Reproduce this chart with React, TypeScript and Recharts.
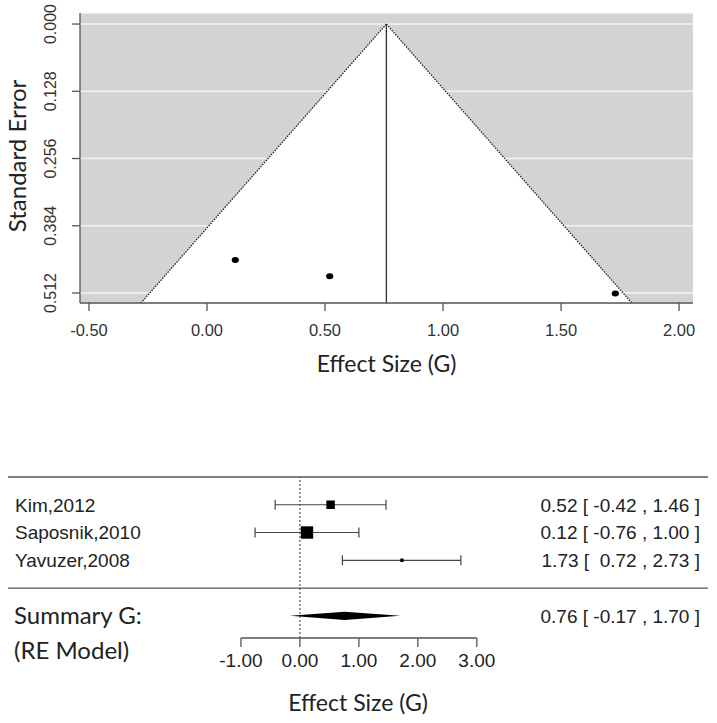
import React from 'react';
import {
	ComposedChart,
	Scatter,
	XAxis,
	YAxis,
	CartesianGrid,
	ReferenceArea,
	ReferenceLine,
	ErrorBar,
	Label
} from 'recharts';

// studies, top to bottom
const studies = ['Kim,2012', 'Saposnik,2010', 'Yavuzer,2008'];
const effects = [0.52, 0.12, 1.73];
const ciLower = [-0.42, -0.76, 0.72];
const ciUpper = [1.46, 1.0, 2.73];
const standardErrors = [0.48, 0.449, 0.513];
const weights = [35, 51, 14];

// random effects summary
const summaryEffect = 0.76;
const summaryLower = -0.17;
const summaryUpper = 1.7;

// funnel outline
const funnelLeft = -0.28;
const funnelRight = 1.8;
const funnelBaseSe = 0.531;

const funnelXTicks = [-0.5, 0, 0.5, 1, 1.5, 2];
const funnelYTicks = [0, 0.128, 0.256, 0.384, 0.512];
const forestXTicks = [-1, 0, 1, 2, 3];

const tickFont = '"Liberation Sans", Arial, sans-serif';
const titleFont = 'Lato, "Open Sans", sans-serif';
const axisColor = '#555555';

const funnelData = effects.map((e, i) => ({ x: e, se: standardErrors[i] }));

const forestData = effects.map((e, i) => ({
	x: e,
	row: studies.length - i,
	err: [e - ciLower[i], ciUpper[i] - e],
	weight: weights[i]
}));

const fmtCi = (e: number, lo: number, hi: number) => {
	const f = (v: number) => (v < 0 ? ' ' + v.toFixed(2) : '  ' + v.toFixed(2));
	return `${e.toFixed(2)} [${f(lo)} , ${hi.toFixed(2)} ]`;
};

const FunnelYTick = (props: any) => {
	const { x, y, payload } = props;
	const cx = x - 20;
	return (
		<text
			x={cx}
			y={y}
			dy="0.36em"
			textAnchor="middle"
			transform={`rotate(-90 ${cx} ${y})`}
			fill="#333"
			style={{ fontFamily: tickFont, fontSize: 16 }}
		>
			{Number(payload.value).toFixed(3)}
		</text>
	);
};

const SeLabel = (props: any) => {
	const vb = props.viewBox;
	const cy = vb.y + vb.height / 2 - 2;
	return (
		<text
			x={17}
			y={cy}
			dy="0.36em"
			textAnchor="middle"
			transform={`rotate(-90 17 ${cy})`}
			fill="#222"
			style={{ fontFamily: titleFont, fontSize: 24 }}
		>
			Standard Error
		</text>
	);
};

const FunnelTriangle = (props: any) => {
	const { x, y, width, height } = props;
	const apex = x + (width * (summaryEffect - funnelLeft)) / (funnelRight - funnelLeft);
	return (
		<polygon
			points={`${apex},${y} ${x + width},${y + height} ${x},${y + height}`}
			fill="#ffffff"
		/>
	);
};

const Dot = (props: any) => {
	const { cx, cy } = props;
	return <ellipse cx={cx} cy={cy} rx={3.6} ry={3} fill="#000" />;
};

const WeightSquare = (props: any) => {
	const { cx, cy, payload } = props;
	const s = payload.weight * 0.243;
	return <rect x={cx - s / 2} y={cy - s / 2} width={s} height={s} fill="#000" />;
};

const Diamond = (props: any) => {
	const { x, y, width, height } = props;
	const mid = x + (width * (summaryEffect - summaryLower)) / (summaryUpper - summaryLower);
	return (
		<polygon
			points={`${x},${y + height / 2} ${mid},${y} ${x + width},${y + height / 2} ${mid},${y + height}`}
			fill="#000"
		/>
	);
};

const ciTextStyle = { fontFamily: tickFont, fontSize: 19, whiteSpace: 'pre' as const };

const RowTick = (props: any) => {
	const { y, payload } = props;
	const v = payload.value;
	if (v < 0) {
		return (
			<g>
				<text x={14} y={y} dy="0.36em" fill="#222" style={{ fontFamily: titleFont, fontSize: 24 }}>
					Summary G:
				</text>
				<text x={14} y={y + 35} dy="0.36em" fill="#222" style={{ fontFamily: titleFont, fontSize: 24 }}>
					(RE Model)
				</text>
				<text x={700} y={y} dy="0.36em" textAnchor="end" fill="#222" xmlSpace="preserve" style={ciTextStyle}>
					{fmtCi(summaryEffect, summaryLower, summaryUpper)}
				</text>
			</g>
		);
	}
	const i = studies.length - v;
	return (
		<g>
			<text x={15} y={y} dy="0.36em" fill="#222" style={{ fontFamily: tickFont, fontSize: 19 }}>
				{studies[i]}
			</text>
			<text x={700} y={y} dy="0.36em" textAnchor="end" fill="#222" xmlSpace="preserve" style={ciTextStyle}>
				{fmtCi(effects[i], ciLower[i], ciUpper[i])}
			</text>
		</g>
	);
};

const App = () => {
	return (
		<div style={{ position: 'absolute', left: 0, top: 0, width: 717, height: 723, background: '#fff' }}>
			<ComposedChart
				width={717}
				height={390}
				data={funnelData}
				margin={{ top: 13, right: 24, left: 8, bottom: 13 }}
			>
				<CartesianGrid vertical={false} stroke="#f4f4f4" strokeWidth={1.5} fill="#d3d3d3" fillOpacity={1} />
				<XAxis
					type="number"
					dataKey="x"
					domain={[-0.538, 2.059]}
					allowDataOverflow
					ticks={funnelXTicks}
					tickFormatter={(v: number) => v.toFixed(2)}
					height={74}
					tickSize={8}
					tickMargin={13}
					stroke={axisColor}
					strokeWidth={1.3}
					tick={{ fill: '#333', fontSize: 16.5, fontFamily: tickFont }}
				>
					<Label
						value="Effect Size (G)"
						position="insideBottom"
						offset={5}
						fill="#222"
						style={{ fontFamily: titleFont, fontSize: 23 }}
					/>
				</XAxis>
				<YAxis
					type="number"
					dataKey="se"
					reversed
					domain={[-0.021, 0.531]}
					allowDataOverflow
					ticks={funnelYTicks}
					width={72}
					tickSize={8}
					stroke={axisColor}
					strokeWidth={1.3}
					tick={<FunnelYTick />}
				>
					<Label content={<SeLabel />} />
				</YAxis>
				<ReferenceArea
					x1={funnelLeft}
					x2={funnelRight}
					y1={0}
					y2={funnelBaseSe}
					shape={(p: any) => <FunnelTriangle {...p} />}
				/>
				<ReferenceLine
					segment={[
						{ x: funnelLeft, y: funnelBaseSe },
						{ x: summaryEffect, y: 0 }
					]}
					stroke="#222"
					strokeWidth={1.3}
					strokeDasharray="1.5 1.2"
				/>
				<ReferenceLine
					segment={[
						{ x: summaryEffect, y: 0 },
						{ x: funnelRight, y: funnelBaseSe }
					]}
					stroke="#222"
					strokeWidth={1.3}
					strokeDasharray="1.5 1.2"
				/>
				<ReferenceLine
					segment={[
						{ x: summaryEffect, y: 0 },
						{ x: summaryEffect, y: funnelBaseSe }
					]}
					stroke="#333"
					strokeWidth={1.3}
				/>
				<Scatter data={funnelData} dataKey="se" shape={<Dot />} isAnimationActive={false} />
			</ComposedChart>

			<div style={{ position: 'absolute', left: 0, top: 440 }}>
				<ComposedChart
					width={717}
					height={283}
					data={forestData}
					margin={{ top: 37, right: 9, left: 7, bottom: 0 }}
				>
					<XAxis
						type="number"
						dataKey="x"
						domain={[-4.95, 6.92]}
						allowDataOverflow
						ticks={forestXTicks}
						tickFormatter={(v: number) => v.toFixed(2)}
						height={85}
						axisLine={false}
						tickSize={9}
						tickMargin={7}
						stroke={axisColor}
						strokeWidth={1.3}
						tick={{ fill: '#222', fontSize: 19, fontFamily: tickFont }}
					>
						<Label
							value="Effect Size (G)"
							position="insideBottom"
							offset={12}
							fill="#222"
							style={{ fontFamily: titleFont, fontSize: 23 }}
						/>
					</XAxis>
					<YAxis
						type="number"
						dataKey="row"
						domain={[-1.8, 4]}
						allowDataOverflow
						ticks={[3, 2, 1, -1]}
						width={1}
						axisLine={false}
						tickLine={false}
						tick={<RowTick />}
					/>
					<ReferenceLine y={4} stroke={axisColor} strokeWidth={1.3} />
					<ReferenceLine y={0} stroke={axisColor} strokeWidth={1.3} />
					<ReferenceLine x={0} stroke="#333" strokeDasharray="2 2" />
					<ReferenceLine
						segment={[
							{ x: forestXTicks[0], y: -1.8 },
							{ x: forestXTicks[forestXTicks.length - 1], y: -1.8 }
						]}
						stroke={axisColor}
						strokeWidth={1.3}
					/>
					<ReferenceArea
						x1={summaryLower}
						x2={summaryUpper}
						y1={-1.15}
						y2={-0.85}
						shape={(p: any) => <Diamond {...p} />}
					/>
					<Scatter data={forestData} dataKey="row" shape={<WeightSquare />} isAnimationActive={false}>
						<ErrorBar dataKey="err" direction="x" width={5} stroke="#444" strokeWidth={1.2} />
					</Scatter>
				</ComposedChart>
			</div>
		</div>
	);
};

export default App;
